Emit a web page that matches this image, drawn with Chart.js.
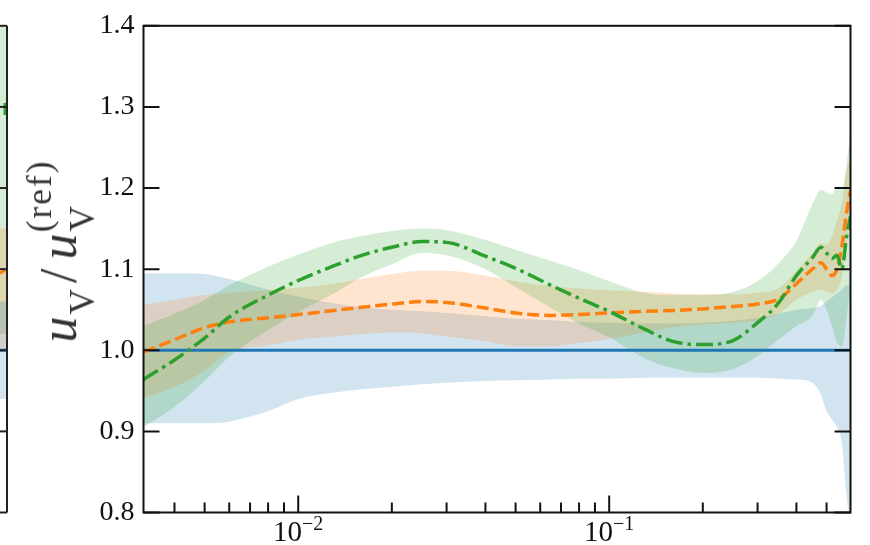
<!DOCTYPE html>
<html>
<head>
<meta charset="utf-8">
<title>u_V ratio</title>
<script src="https://cdn.jsdelivr.net/npm/chart.js@4.4.0/dist/chart.umd.min.js"></script>
<style>
  html, body { margin: 0; padding: 0; background: #fff; }
  #wrap { position: relative; width: 870px; height: 545px; overflow: hidden; }
  #c { position: absolute; left: 0; top: 0; }
  #ylab {
    position: absolute; left: 59px; top: 251px;
    transform: translate(-50%, -50%) rotate(-90deg);
    font-family: 'Liberation Serif', serif; font-size: 52px; font-weight: normal; color: #333;
    white-space: nowrap; line-height: 1; letter-spacing: 2px;
  }
  #ylab i { font-style: italic; }
  #ylab .sl { margin: 0 7px 0 4px; }
  #ylab .sb { font-size: 0.68em; position: relative; top: 0.5em; }
  #ylab .sp { font-size: 0.68em; position: relative; top: -0.72em; margin-left: -0.8em; }
</style>
</head>
<body>
<div id="wrap">
  <canvas id="c" width="870" height="545"></canvas>
  <div id="ylab"><i>u</i><span class="sb">V</span><span class="sl">/</span><i>u</i><span class="sb">V</span><span class="sp">(ref)</span></div>
</div>
<script>
// x grid (log scale)
const xGrid = [0.00318, 0.004, 0.005, 0.006, 0.008, 0.01, 0.013, 0.016, 0.02, 0.025, 0.03, 0.04, 0.05, 0.065, 0.08, 0.1, 0.13, 0.16, 0.2, 0.25, 0.3, 0.35, 0.4, 0.45, 0.48, 0.5, 0.52, 0.54, 0.56, 0.58, 0.597];

// reference (blue): central line and band
const refX = [0.00318, 0.597];
const refY = [1.0, 1.0];
const blueUp = [1.095,1.095,1.094,1.088,1.075,1.066,1.058,1.053,1.050,1.048,1.046,1.042,1.039,1.037,1.035,1.034,1.033,1.033,1.034,1.036,1.040,1.045,1.050,1.052,1.055,1.060,1.065,1.070,1.075,1.080,1.080];
const blueLo = [0.910,0.910,0.910,0.912,0.925,0.940,0.948,0.952,0.955,0.958,0.960,0.962,0.963,0.964,0.965,0.965,0.966,0.966,0.966,0.966,0.966,0.965,0.964,0.960,0.945,0.925,0.915,0.905,0.885,0.820,0.780];

// orange (dashed)
const orangeMid = [0.998,1.013,1.028,1.035,1.040,1.044,1.049,1.053,1.057,1.060,1.059,1.052,1.046,1.043,1.044,1.046,1.048,1.049,1.051,1.054,1.057,1.063,1.082,1.100,1.108,1.100,1.092,1.100,1.128,1.170,1.197];
const orangeUp = [1.056,1.062,1.068,1.071,1.074,1.077,1.082,1.088,1.094,1.098,1.098,1.092,1.085,1.079,1.076,1.074,1.072,1.070,1.069,1.069,1.071,1.076,1.098,1.120,1.132,1.130,1.140,1.160,1.180,1.220,1.240];
const orangeLo = [0.941,0.955,0.975,0.998,1.006,1.013,1.017,1.020,1.022,1.021,1.017,1.011,1.005,1.005,1.009,1.014,1.022,1.028,1.032,1.034,1.037,1.045,1.062,1.072,1.075,1.072,1.070,1.075,1.090,1.130,1.160];

// green (dash-dot)
const greenMid = [0.964,0.988,1.015,1.041,1.068,1.086,1.104,1.117,1.127,1.134,1.133,1.116,1.101,1.080,1.064,1.048,1.026,1.011,1.007,1.012,1.034,1.058,1.092,1.114,1.127,1.120,1.113,1.117,1.100,1.140,1.165];
const greenUp = [1.030,1.045,1.062,1.080,1.103,1.118,1.133,1.141,1.147,1.150,1.148,1.136,1.124,1.110,1.099,1.085,1.071,1.068,1.068,1.072,1.085,1.107,1.135,1.180,1.198,1.195,1.192,1.200,1.198,1.230,1.270];
const greenLo = [0.905,0.930,0.962,0.992,1.025,1.047,1.070,1.090,1.106,1.120,1.117,1.100,1.078,1.052,1.033,1.016,0.990,0.978,0.972,0.977,0.993,1.013,1.030,1.043,1.062,1.050,1.030,1.010,1.005,1.040,1.080];

// axes
const yTicks = [0.8, 0.9, 1.0, 1.1, 1.2, 1.3, 1.4];
const xMajor = [0.01, 0.1];
const xMajorExp = ['\u22122', '\u22121'];
const xMinor = [0.004, 0.005, 0.006, 0.007, 0.008, 0.009, 0.02, 0.03, 0.04, 0.05, 0.06, 0.07, 0.08, 0.09, 0.2, 0.3, 0.4, 0.5];

// sliver of the neighbouring panel on the left: [top, bottom, colour]
const prevFills = [[1.4, 1.02, 'rgba(44,160,44,0.2)'], [1.15, 1.0, 'rgba(255,127,14,0.2)'], [1.06, 0.94, 'rgba(31,119,180,0.2)']];

const pts = (xs, ys) => xs.map((x, i) => ({x: x, y: ys[i]}));

function band(data, color, target, order) {
  return {
    data: data, borderWidth: 0, pointRadius: 0, order: order, clip: 0,
    backgroundColor: color, fill: target === null ? false : {target: target},
    cubicInterpolationMode: 'monotone'
  };
}
function line(data, color, dash, width, order) {
  return {
    data: data, borderWidth: width, borderColor: color, borderDash: dash,
    borderCapStyle: 'butt', pointRadius: 0, fill: false, order: order, clip: 0,
    cubicInterpolationMode: 'monotone'
  };
}

const frame = {
  id: 'frame',
  beforeDraw(chart) {
    const ctx = chart.ctx, y = chart.scales.y, a = chart.chartArea;
    ctx.save();
    prevFills.forEach(f => {
      ctx.fillStyle = f[2];
      ctx.fillRect(0, y.getPixelForValue(f[0]), 6, y.getPixelForValue(f[1]) - y.getPixelForValue(f[0]));
    });
    ctx.lineWidth = 3;
    ctx.strokeStyle = '#2ca02c';
    ctx.beginPath(); ctx.moveTo(5, y.getPixelForValue(1.305)); ctx.lineTo(5, y.getPixelForValue(1.29)); ctx.stroke();
    ctx.strokeStyle = '#ff7f0e';
    ctx.beginPath(); ctx.moveTo(0, y.getPixelForValue(1.095)); ctx.lineTo(6, y.getPixelForValue(1.1)); ctx.stroke();
    ctx.strokeStyle = '#1f77b4';
    ctx.beginPath(); ctx.moveTo(0, y.getPixelForValue(1.0)); ctx.lineTo(6, y.getPixelForValue(1.0)); ctx.stroke();
    ctx.strokeStyle = '#222';
    ctx.lineWidth = 2;
    ctx.beginPath(); ctx.moveTo(7, a.top); ctx.lineTo(7, a.bottom); ctx.stroke();
    yTicks.forEach(v => {
      const py = y.getPixelForValue(v);
      ctx.beginPath(); ctx.moveTo(0, py); ctx.lineTo(7, py); ctx.stroke();
    });
    ctx.restore();
  },
  afterDraw(chart) {
    const ctx = chart.ctx, x = chart.scales.x, y = chart.scales.y, a = chart.chartArea;
    ctx.save();
    ctx.strokeStyle = '#111';
    ctx.lineWidth = 2;
    ctx.strokeRect(a.left, a.top, a.right - a.left, a.bottom - a.top);
    yTicks.forEach(v => {
      const py = y.getPixelForValue(v);
      ctx.beginPath();
      ctx.moveTo(a.left, py); ctx.lineTo(a.left + 16, py);
      ctx.moveTo(a.right, py); ctx.lineTo(a.right - 16, py);
      ctx.stroke();
    });
    xMinor.forEach(v => {
      const px = x.getPixelForValue(v);
      ctx.beginPath(); ctx.moveTo(px, a.bottom); ctx.lineTo(px, a.bottom - 10); ctx.stroke();
    });
    ctx.fillStyle = '#111';
    xMajor.forEach((v, i) => {
      const px = x.getPixelForValue(v);
      ctx.beginPath(); ctx.moveTo(px, a.bottom); ctx.lineTo(px, a.bottom - 17); ctx.stroke();
      ctx.font = '29px "Liberation Serif"';
      const w1 = ctx.measureText('10').width;
      ctx.font = '20px "Liberation Serif"';
      const w2 = ctx.measureText(xMajorExp[i]).width;
      const x0 = px - (w1 + w2) / 2;
      ctx.textBaseline = 'alphabetic';
      ctx.textAlign = 'left';
      ctx.font = '29px "Liberation Serif"';
      ctx.fillText('10', x0, a.bottom + 28);
      ctx.font = '20px "Liberation Serif"';
      ctx.fillText(xMajorExp[i], x0 + w1, a.bottom + 17.5);
    });
    ctx.restore();
  }
};

new Chart(document.getElementById('c'), {
  type: 'line',
  data: {
    datasets: [
      band(pts(xGrid, blueUp), 'rgba(31,119,180,0.2)', 1, 9),
      band(pts(xGrid, blueLo), 'rgba(31,119,180,0.2)', null, 9),
      band(pts(xGrid, orangeUp), 'rgba(255,127,14,0.2)', 3, 8),
      band(pts(xGrid, orangeLo), 'rgba(255,127,14,0.2)', null, 8),
      band(pts(xGrid, greenUp), 'rgba(44,160,44,0.2)', 5, 7),
      band(pts(xGrid, greenLo), 'rgba(44,160,44,0.2)', null, 7),
      line(pts(refX, refY), '#1f77b4', [], 3.2, 3),
      line(pts(xGrid, orangeMid), '#ff7f0e', [12, 5], 3.5, 2),
      line(pts(xGrid, greenMid), '#2ca02c', [17, 5, 3.5, 5], 3.5, 1)
    ]
  },
  options: {
    responsive: false,
    animation: false,
    devicePixelRatio: 1,
    events: [],
    layout: { padding: { left: 0, right: 19.5, top: 20, bottom: 0 } },
    plugins: { legend: { display: false }, tooltip: { enabled: false } },
    scales: {
      x: {
        type: 'logarithmic', min: 0.00318, max: 0.597,
        grid: { display: false, drawTicks: false },
        border: { display: false },
        ticks: { display: false },
        afterFit(s) { s.height = 32.5; }
      },
      y: {
        type: 'linear', min: 0.8, max: 1.4,
        grid: { display: false, drawTicks: false },
        border: { display: false },
        ticks: {
          font: { family: 'Liberation Serif', size: 28 },
          color: '#111', padding: 9,
          callback: v => v.toFixed(1)
        },
        afterBuildTicks(s) { s.ticks = yTicks.map(v => ({ value: v })); },
        afterFit(s) { s.width = 143.5; }
      }
    }
  },
  plugins: [frame]
});
</script>
</body>
</html>
